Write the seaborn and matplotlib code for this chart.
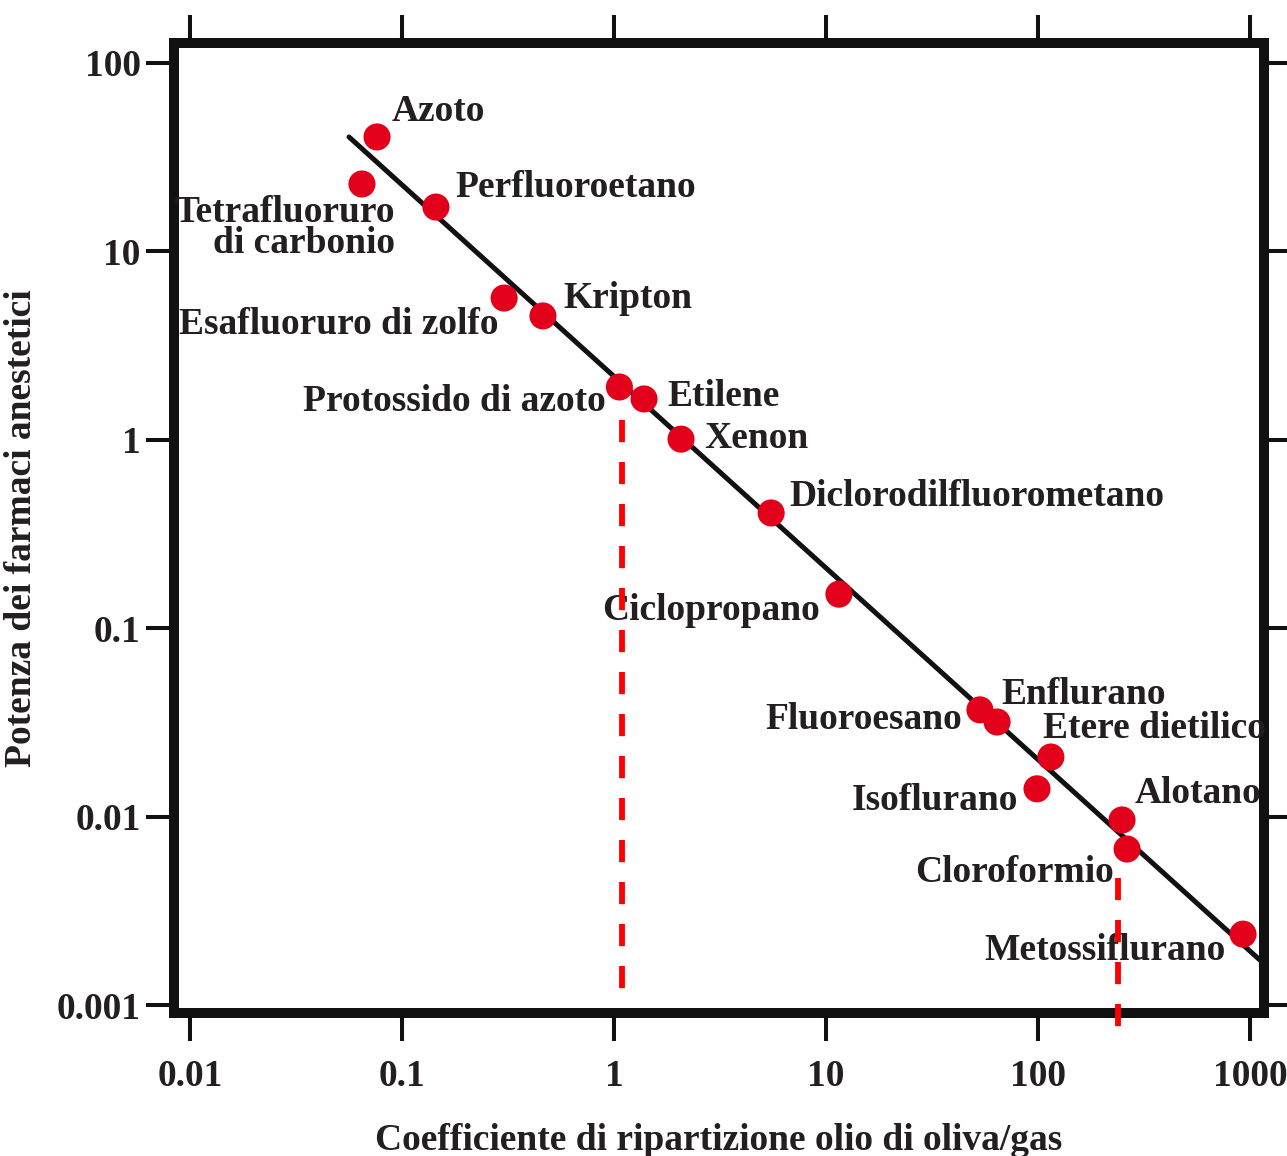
import matplotlib
matplotlib.use("Agg")
import matplotlib.pyplot as plt
import matplotlib.ticker as mticker
import seaborn as sns
import pandas as pd

# ---- data ----
names = ["Azoto", "Tetrafluoruro\ndi carbonio", "Perfluoroetano", "Esafluoruro di zolfo",
         "Kripton", "Protossido di azoto", "Etilene", "Xenon", "Diclorodilfluorometano",
         "Ciclopropano", "Fluoroesano", "Enflurano", "Etere dietilico", "Isoflurano",
         "Alotano", "Cloroformio", "Metossiflurano"]
coef = [0.0762, 0.0647, 0.1445, 0.303, 0.462, 1.06, 1.385, 2.07, 5.51,
        11.5, 53.2, 64.1, 115, 98.9, 249, 263, 927]
potency = [40.5, 22.8, 17.2, 5.66, 4.55, 1.91, 1.65, 1.01, 0.41,
           0.152, 0.037, 0.0319, 0.0208, 0.0141, 0.00964, 0.00676, 0.00239]

fit_x = [0.0562, 1114]
fit_y = [40.5, 0.00174]

dash_x = [1.09, 238]
dash_top = [1.28, 0.00474]
dash_bottom = [0.00102, 0.000769]

xticks = [0.01, 0.1, 1, 10, 100, 1000]
xticklabels = ["0.01", "0.1", "1", "10", "100", "1000"]
yticks = [0.001, 0.01, 0.1, 1, 10, 100]
yticklabels = ["0.001", "0.01", "0.1", "1", "10", "100"]

xlabel = "Coefficiente di ripartizione olio di oliva/gas"
ylabel = "Potenza dei farmaci anestetici"

# label placement (offset in pixels, horizontal alignment)
label_style = [((15, 25), "left"), ((33, -44), "right"), ((19, 20), "left"),
               ((-6, -26), "right"), ((20, 17), "left"), ((-14, -15), "right"),
               ((23, 2), "left"), ((23, 1), "left"), ((18, 16), "left"),
               ((-19, -16), "right"), ((-18, -10), "right"), ((4, 27), "left"),
               ((-8, 29), "left"), ((-19, -12), "right"), ((13, 26), "left"),
               ((-13, -23), "right"), ((-17, -16), "right")]

# ---- style ----
sns.set_theme(style="white")
plt.rcParams['font.family'] = ['Liberation Serif', 'DejaVu Serif']
plt.rcParams['font.weight'] = 'bold'
TXT = "#231f20"
RED = "#e2001a"
FS = 27

df = pd.DataFrame({"coef": coef, "potency": potency, "name": names})
fit = pd.DataFrame({"x": fit_x, "y": fit_y})

fig = plt.figure(figsize=(12.87, 11.56), dpi=100)
ax = fig.add_axes([174/1287, 1-1013/1156, 1090/1287, 970/1156])
ax.set_xscale("log")
ax.set_yscale("log")

sns.lineplot(data=fit, x="x", y="y", ax=ax, color="#111111", linewidth=3.6, zorder=2)
sns.scatterplot(data=df, x="coef", y="potency", ax=ax, color=RED, s=380,
                edgecolor="none", linewidth=0, zorder=3)

for i, (n, xv, yv) in enumerate(zip(names, coef, potency)):
    (dx, dy), ha = label_style[i]
    ax.annotate(n, (xv, yv), xytext=(dx, dy), textcoords="offset pixels",
                ha=ha, va="center", multialignment=ha, fontsize=FS,
                fontweight="bold", color=TXT, linespacing=0.82, zorder=4)

for xv, yt, yb in zip(dash_x, dash_top, dash_bottom):
    ax.plot([xv, xv], [yt, yb], color="#ff0000", linewidth=4.2,
            dashes=(3.8, 3.4), zorder=5, clip_on=False)

ax.set_xlim(0.0084, 1164)
ax.set_ylim(0.000912, 127.6)

ax.xaxis.set_major_locator(mticker.FixedLocator(xticks))
ax.yaxis.set_major_locator(mticker.FixedLocator(yticks))
ax.xaxis.set_minor_locator(mticker.NullLocator())
ax.yaxis.set_minor_locator(mticker.NullLocator())
ax.set_xticklabels(xticklabels)
ax.set_yticklabels(yticklabels)

ax.tick_params(axis="both", which="major", direction="out", length=20, width=2.9,
               color="#111111", labelsize=FS, labelcolor=TXT,
               top=True, right=True, bottom=True, left=True)
ax.tick_params(axis="x", pad=13)
ax.tick_params(axis="y", pad=4)
for lab in ax.get_xticklabels() + ax.get_yticklabels():
    lab.set_fontweight("bold")

for sp in ax.spines.values():
    sp.set_visible(True)
    sp.set_linewidth(7.2)
    sp.set_color("#111111")

ax.set_xlabel(xlabel, fontsize=FS, fontweight="bold", color=TXT)
ax.set_ylabel(ylabel, fontsize=FS, fontweight="bold", color=TXT)
ax.xaxis.set_label_coords(0.5, -0.113)
ax.yaxis.set_label_coords(-0.124, 0.5)

fig.savefig("out.png", dpi=100, facecolor="white")
